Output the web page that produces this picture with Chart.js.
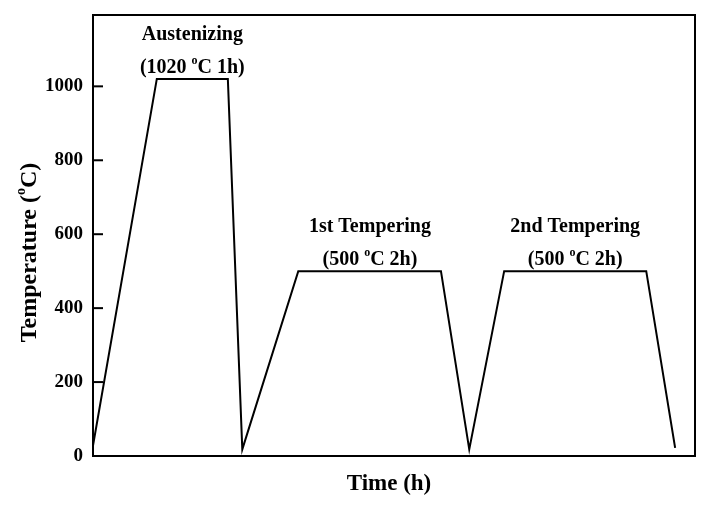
<!DOCTYPE html>
<html>
<head>
<meta charset="utf-8">
<script src="https://cdn.jsdelivr.net/npm/chart.js@4.4.1/dist/chart.umd.min.js"></script>
<style>
  html, body { margin: 0; padding: 0; background: #fff; }
  #wrap { width: 712px; height: 511px; }
</style>
</head>
<body>
<div id="wrap"><canvas id="heatChart"></canvas></div>
<script>
// heat treatment schedule (time in arbitrary units, temperature in oC)
let timePts = [0, 10.6, 22.4, 24.8, 34.1, 57.8, 62.5, 68.3, 91.9, 96.7];
let tempPts = [28, 1020, 1020, 18, 500, 500, 18, 500, 500, 22];
let yTicks = [0, 200, 400, 600, 800, 1000];

// stage labels: [line1, line2 before sup, line2 after sup], anchored on plateau
let stageNames = ['Austenizing', '1st Tempering', '2nd Tempering'];
let stageTemps = ['(1020 ', '(500 ', '(500 '];
let stageTimes = ['C 1h)', 'C 2h)', 'C 2h)'];
let stageX = [16.5, 46, 80.1];
let stageY = [1020, 500, 500];

const FONT = '"Liberation Serif", "Times New Roman", serif';

// draw a string with a raised small "o" in the middle
function supText(ctx, x, y, before, after, size, align) {
  ctx.font = 'bold ' + size + 'px ' + FONT;
  let w1 = ctx.measureText(before).width;
  let w3 = ctx.measureText(after).width;
  let small = Math.round(size * 0.6);
  ctx.font = 'bold ' + small + 'px ' + FONT;
  let w2 = ctx.measureText('o').width;
  let total = w1 + w2 + w3;
  let x0 = align === 'center' ? x - total / 2 : x;
  ctx.textAlign = 'left';
  ctx.textBaseline = 'alphabetic';
  ctx.font = 'bold ' + size + 'px ' + FONT;
  ctx.fillText(before, x0, y);
  ctx.font = 'bold ' + small + 'px ' + FONT;
  ctx.fillText('o', x0 + w1, y - size * 0.45);
  ctx.font = 'bold ' + size + 'px ' + FONT;
  ctx.fillText(after, x0 + w1 + w2, y);
}

const decor = {
  id: 'decor',
  afterDraw(chart) {
    let ctx = chart.ctx;
    let a = chart.chartArea;
    let xs = chart.scales.x, ys = chart.scales.y;
    ctx.save();
    ctx.strokeStyle = '#000';
    ctx.fillStyle = '#000';
    ctx.lineWidth = 2;
    // frame
    ctx.strokeRect(a.left, a.top, a.right - a.left, a.bottom - a.top);
    // inward ticks
    ys.ticks.forEach(t => {
      let py = ys.getPixelForValue(t.value);
      ctx.beginPath();
      ctx.moveTo(a.left, py);
      ctx.lineTo(a.left + 10, py);
      ctx.stroke();
    });
    // stage labels
    for (let i = 0; i < stageNames.length; i++) {
      let px = xs.getPixelForValue(stageX[i]);
      let py = ys.getPixelForValue(stageY[i]);
      ctx.font = 'bold 20px ' + FONT;
      ctx.textAlign = 'center';
      ctx.textBaseline = 'alphabetic';
      ctx.fillText(stageNames[i], px, py - 39);
      supText(ctx, px, py - 6, stageTemps[i], stageTimes[i], 20, 'center');
    }
    // axis titles
    ctx.font = 'bold 23px ' + FONT;
    ctx.textAlign = 'center';
    ctx.textBaseline = 'middle';
    ctx.fillText('Time (h)', (a.left + a.right) / 2 - 5, 484);
    ctx.save();
    ctx.translate(36, (a.top + a.bottom) / 2 + 17);
    ctx.rotate(-Math.PI / 2);
    ctx.font = 'bold 24px ' + FONT;
    let tw = ctx.measureText('Temperature (').width;
    ctx.font = 'bold 14px ' + FONT;
    let ow = ctx.measureText('o').width;
    ctx.font = 'bold 24px ' + FONT;
    let cw = ctx.measureText('C)').width;
    supText(ctx, -(tw + ow + cw) / 2, 0, 'Temperature (', 'C)', 24, 'left');
    ctx.restore();
    ctx.restore();
  }
};

let ctx = document.getElementById('heatChart').getContext('2d');
// eslint-disable-next-line no-unused-vars
let heatChart = new Chart(ctx, {
  type: 'line',
  data: {
    datasets: [{
      data: timePts.map((t, i) => ({ x: t, y: tempPts[i] })),
      borderColor: '#000',
      borderWidth: 2,
      pointRadius: 0,
      tension: 0,
      fill: false
    }]
  },
  options: {
    responsive: true,
    maintainAspectRatio: false,
    animation: false,
    layout: { padding: { top: 15, right: 17, left: 0, bottom: 0 } },
    plugins: {
      legend: { display: false },
      tooltip: { enabled: false }
    },
    scales: {
      x: {
        type: 'linear',
        min: 0,
        max: 100,
        grid: { display: false, drawTicks: false },
        border: { display: false },
        ticks: { display: false },
        afterFit: (s) => { s.height = 55; }
      },
      y: {
        min: 0,
        max: 1193,
        grid: { display: false, drawTicks: false },
        border: { display: false },
        afterBuildTicks: (s) => {
          s.ticks = yTicks.map(v => ({ value: v }));
        },
        afterFit: (s) => {
          s.width = 93;
          s.paddingTop = 0;
          s.paddingBottom = 0;
        },
        ticks: {
          color: '#000',
          padding: 10,
          callback: (v) => String(v),
          font: { family: FONT, size: 19, weight: 'bold' }
        }
      }
    }
  },
  plugins: [decor]
});
</script>
</body>
</html>
